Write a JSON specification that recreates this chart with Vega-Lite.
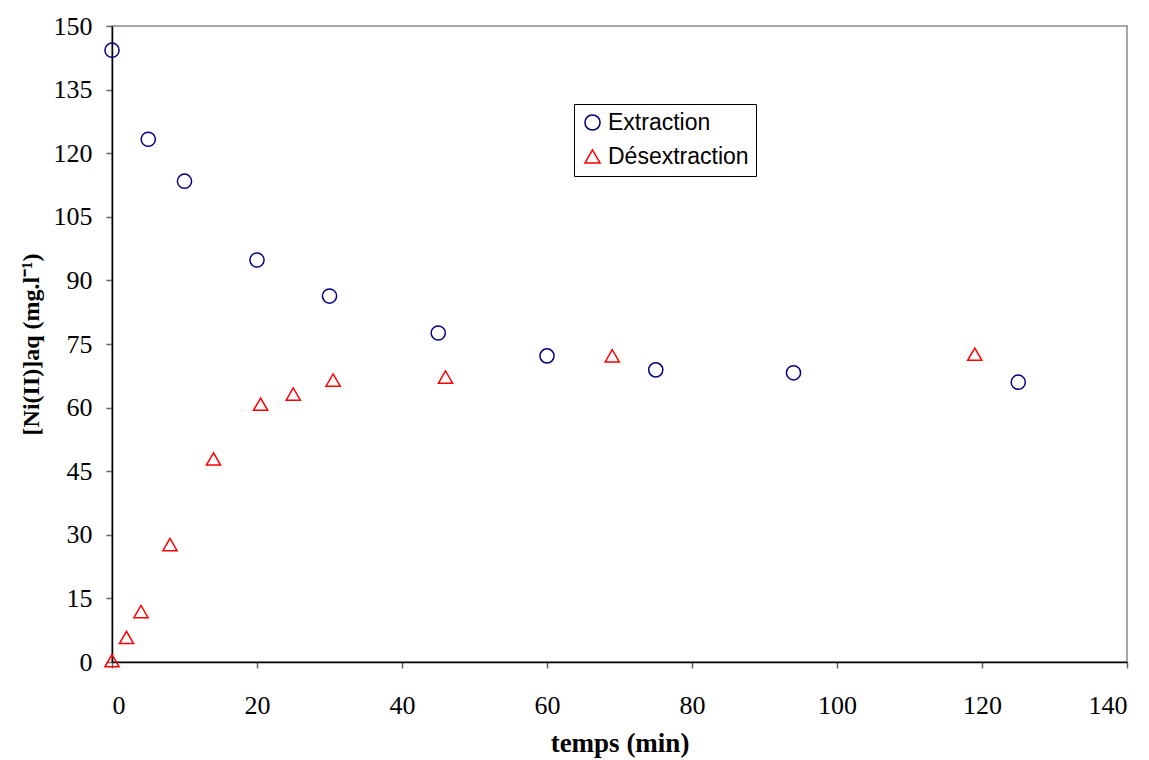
{
  "$schema": "https://vega.github.io/schema/vega-lite/v6.json",
  "autosize": "none",
  "width": 1015,
  "height": 636,
  "padding": {"left": 112, "top": 26, "right": 22, "bottom": 98},
  "background": "white",
  "config": {
    "view": {"stroke": "#888888", "strokeWidth": 1.5},
    "axis": {
      "grid": false,
      "domainColor": "#000000",
      "domainWidth": 1.5,
      "tickColor": "#666666",
      "tickWidth": 1.5,
      "tickSize": 6,
      "labelFont": "Liberation Serif",
      "labelFontSize": 26,
      "labelColor": "#000000",
      "titleFont": "Liberation Serif",
      "titleFontSize": 27,
      "titleFontWeight": "bold",
      "titleColor": "#000000"
    }
  },
  "data": {
    "values": [
      {"t": 0, "c": 144.3, "s": "Extraction"},
      {"t": 5, "c": 123.3, "s": "Extraction"},
      {"t": 10, "c": 113.4, "s": "Extraction"},
      {"t": 20, "c": 94.8, "s": "Extraction"},
      {"t": 30, "c": 86.3, "s": "Extraction"},
      {"t": 45, "c": 77.6, "s": "Extraction"},
      {"t": 60, "c": 72.2, "s": "Extraction"},
      {"t": 75, "c": 68.9, "s": "Extraction"},
      {"t": 94, "c": 68.2, "s": "Extraction"},
      {"t": 125, "c": 66.0, "s": "Extraction"},
      {"t": 0, "c": 0.3, "s": "Désextraction"},
      {"t": 2, "c": 5.8, "s": "Désextraction"},
      {"t": 4, "c": 11.9, "s": "Désextraction"},
      {"t": 8, "c": 27.7, "s": "Désextraction"},
      {"t": 14, "c": 47.9, "s": "Désextraction"},
      {"t": 20.5, "c": 60.8, "s": "Désextraction"},
      {"t": 25, "c": 63.2, "s": "Désextraction"},
      {"t": 30.5, "c": 66.5, "s": "Désextraction"},
      {"t": 46, "c": 67.2, "s": "Désextraction"},
      {"t": 69, "c": 72.2, "s": "Désextraction"},
      {"t": 119, "c": 72.6, "s": "Désextraction"}
    ]
  },
  "mark": {"type": "point", "filled": false, "strokeWidth": 1.5, "size": 200, "opacity": 1},
  "encoding": {
    "x": {
      "field": "t", "type": "quantitative",
      "scale": {"domain": [0, 140], "nice": false, "zero": false},
      "axis": {"values": [0, 20, 40, 60, 80, 100, 120, 140], "title": "temps (min)", "labelPadding": 24, "titlePadding": 12}
    },
    "y": {
      "field": "c", "type": "quantitative",
      "scale": {"domain": [0, 150], "nice": false},
      "axis": {"values": [0, 15, 30, 45, 60, 75, 90, 105, 120, 135, 150], "title": "[Ni(II)]aq (mg.l⁻¹)", "titleFontSize": 24, "labelPadding": 14, "titlePadding": 10}
    },
    "shape": {
      "field": "s", "type": "nominal",
      "scale": {"domain": ["Extraction", "Désextraction"], "range": ["circle", "triangle-up"]},
      "legend": {
        "title": null, "orient": "none", "legendX": 462, "legendY": 78,
        "strokeColor": "#000000", "fillColor": "white",
        "padding": 7, "labelFont": "Liberation Sans", "labelFontSize": 23, "labelColor": "#000000",
        "labelOffset": 4, "symbolSize": 230, "symbolStrokeWidth": 1.5, "rowPadding": 10
      }
    },
    "color": {
      "field": "s", "type": "nominal",
      "scale": {"domain": ["Extraction", "Désextraction"], "range": ["#000080", "#ff0000"]},
      "legend": {
        "title": null, "orient": "none", "legendX": 462, "legendY": 78,
        "strokeColor": "#000000", "fillColor": "white",
        "padding": 7, "labelFont": "Liberation Sans", "labelFontSize": 23, "labelColor": "#000000",
        "labelOffset": 4, "symbolSize": 230, "symbolStrokeWidth": 1.5, "rowPadding": 10
      }
    }
  }
}
